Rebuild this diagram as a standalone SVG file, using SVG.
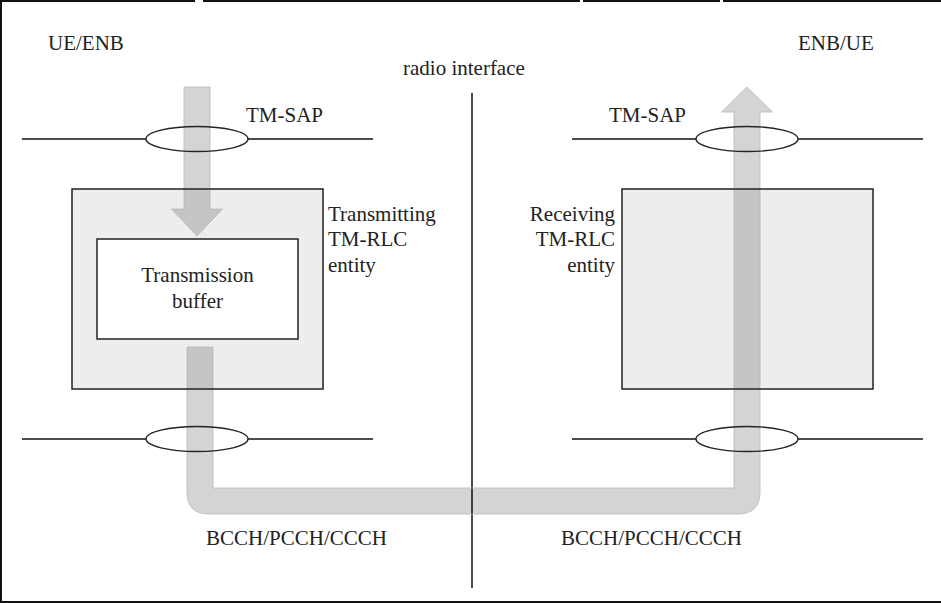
<svg xmlns="http://www.w3.org/2000/svg" width="941" height="603" viewBox="0 0 941 603">
<defs>
<pattern id="dots" width="4" height="4" patternUnits="userSpaceOnUse">
<rect width="4" height="4" fill="#efefef"/>
<rect x="0" y="0" width="1" height="1" fill="#e2e2e2"/>
<rect x="2" y="2" width="1" height="1" fill="#e2e2e2"/>
</pattern>
<style>
text{font-family:"Liberation Serif","Times New Roman",serif;font-size:21px;fill:#222}
.frame{stroke:#111;stroke-width:2;fill:none}
.sap{stroke:#111;stroke-width:1.5;fill:none}
.ell{stroke:#222;stroke-width:1.3;fill:none}
.ent{fill:url(#dots)}
.entb{fill:none;stroke:#222;stroke-width:1.5}
.flow{fill:#000;fill-opacity:0.17;stroke:#b8b8b8;stroke-width:0.8}
</style>
</defs>
<rect width="941" height="603" fill="#fff"/>
<g id="frame">
<line class="frame" x1="1" y1="0" x2="1" y2="603"/>
<line class="frame" x1="0" y1="602" x2="941" y2="602"/>
<line class="frame" x1="0" y1="1" x2="195" y2="1"/>
<line class="frame" x1="203" y1="1" x2="580" y2="1"/>
<line class="frame" x1="583" y1="1" x2="720" y2="1"/>
<line class="frame" x1="723" y1="1" x2="941" y2="1"/>
</g>
<g id="labels">
<text x="48" y="50">UE/ENB</text>
<text x="798" y="50">ENB/UE</text>
<text x="403" y="75">radio interface</text>
<text x="246" y="122">TM-SAP</text>
<text x="609" y="122">TM-SAP</text>
<text x="206" y="545">BCCH/PCCH/CCCH</text>
<text x="561" y="545">BCCH/PCCH/CCCH</text>
</g>
<g id="radio-interface">
<line x1="472" y1="93" x2="472" y2="588" stroke="#111" stroke-width="1.5"/>
</g>
<g id="tx-entity">
<rect class="ent" x="72" y="189" width="251" height="200"/>
<text x="328" y="221">Transmitting</text>
<text x="328" y="246">TM-RLC</text>
<text x="328" y="272">entity</text>
</g>
<g id="rx-entity">
<rect class="ent" x="622" y="189" width="251" height="200"/>
<text x="615" y="221" text-anchor="end">Receiving</text>
<text x="615" y="246" text-anchor="end">TM-RLC</text>
<text x="615" y="272" text-anchor="end">entity</text>
</g>
<g id="connectors">
<path class="flow" d="M184,87 H210 V209 H222.5 L197,236 L171.5,209 H184 Z"/>
<path class="flow" d="M187,347 H213 V488 H734 V112 H721.5 L747,87 L772.5,112 H760 V492 Q760,514 738,514 H209 Q187,514 187,492 Z"/>
</g>
<g id="entity-borders">
<rect class="entb" x="72" y="189" width="251" height="200"/>
<rect class="entb" x="622" y="189" width="251" height="200"/>
</g>
<g id="tx-buffer">
<rect x="97" y="239" width="201" height="100" fill="#fff" stroke="#222" stroke-width="1.5"/>
<text x="197.5" y="282" text-anchor="middle">Transmission</text>
<text x="197.5" y="308" text-anchor="middle">buffer</text>
</g>
<g id="sap-top-left">
<line class="sap" x1="22" y1="139" x2="146" y2="139"/>
<line class="sap" x1="248" y1="139" x2="373" y2="139"/>
<ellipse class="ell" cx="197" cy="139" rx="51" ry="12.5"/>
</g>
<g id="sap-top-right">
<line class="sap" x1="572" y1="139" x2="696" y2="139"/>
<line class="sap" x1="798" y1="139" x2="923" y2="139"/>
<ellipse class="ell" cx="747" cy="139" rx="51" ry="12.5"/>
</g>
<g id="sap-bottom-left">
<line class="sap" x1="22" y1="439" x2="146" y2="439"/>
<line class="sap" x1="248" y1="439" x2="373" y2="439"/>
<ellipse class="ell" cx="197" cy="439" rx="51" ry="12.5"/>
</g>
<g id="sap-bottom-right">
<line class="sap" x1="572" y1="439" x2="696" y2="439"/>
<line class="sap" x1="798" y1="439" x2="923" y2="439"/>
<ellipse class="ell" cx="747" cy="439" rx="51" ry="12.5"/>
</g>
</svg>
